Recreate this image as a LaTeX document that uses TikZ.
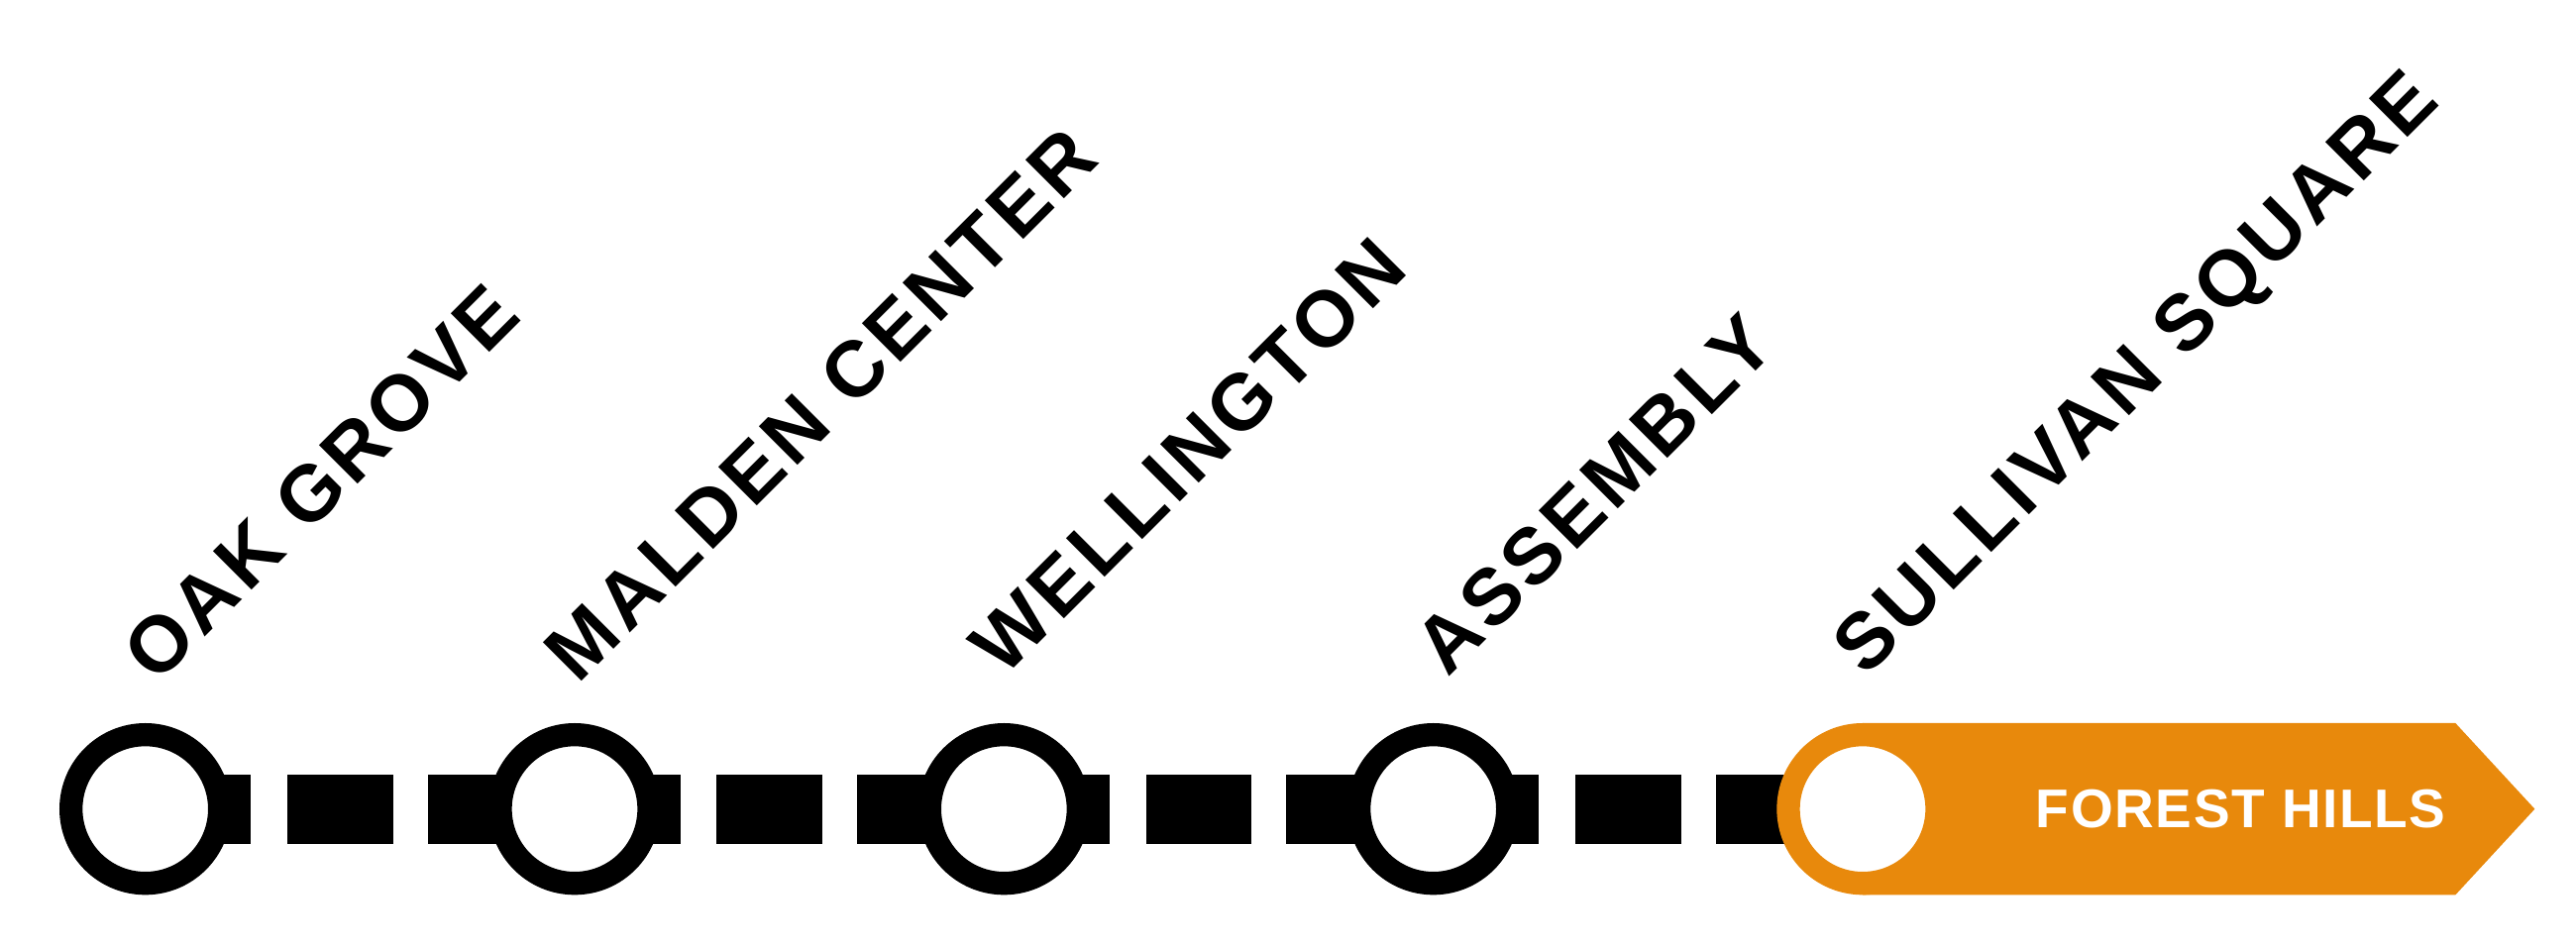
\documentclass[tikz,border=0pt]{standalone}
\usepackage{fontspec}
\setmainfont{Liberation Sans}
\usetikzlibrary{calc}
\definecolor{mbtaorange}{HTML}{E8890C}
\begin{document}
\begin{tikzpicture}[x=1pt,y=1pt,
  station/.style={circle,draw=black,line width=14pt,fill=white,minimum size=90pt,inner sep=0pt},
  lbl/.style={rotate=45,anchor=base west,font=\fontsize{48}{48}\selectfont\bfseries\addfontfeatures{LetterSpace=6},inner sep=0pt}]
\useasboundingbox (0,0) rectangle (1560,575);
% dashes
\foreach \s in {88,348,608,868}{
  \fill (\s,64) rectangle (\s+64,106);
  \fill (\s+86,64) rectangle (\s+150,106);
  \fill (\s+171,64) rectangle (\s+260,106);
}
% orange arrow
\fill[mbtaorange] (1128,33) -- (1487,33) -- (1535,85) -- (1487,137) -- (1128,137) -- cycle;
\node[station] (s1) at (88,85) {};
\node[station] (s2) at (348,85) {};
\node[station] (s3) at (608,85) {};
\node[station] (s4) at (868,85) {};
\node[station,draw=mbtaorange] (s5) at (1128,85) {};
\node[font=\fontsize{33}{33}\selectfont\bfseries\addfontfeatures{LetterSpace=3},text=white] (fh) at (1357,85) {FOREST HILLS};
\node[lbl] (l1) at ($(s1)+(7,75)$) {OAK GROVE};
\node[lbl] (l2) at ($(s2)+(2,75)$) {MALDEN CENTER};
\node[lbl] (l3) at ($(s3)+(0,79)$) {WELLINGTON};
\node[lbl] (l4) at ($(s4)+(9,79)$) {ASSEMBLY};
\node[lbl] (l5) at ($(s5)+(2,79)$) {SULLIVAN SQUARE};
\end{tikzpicture}
\end{document}
